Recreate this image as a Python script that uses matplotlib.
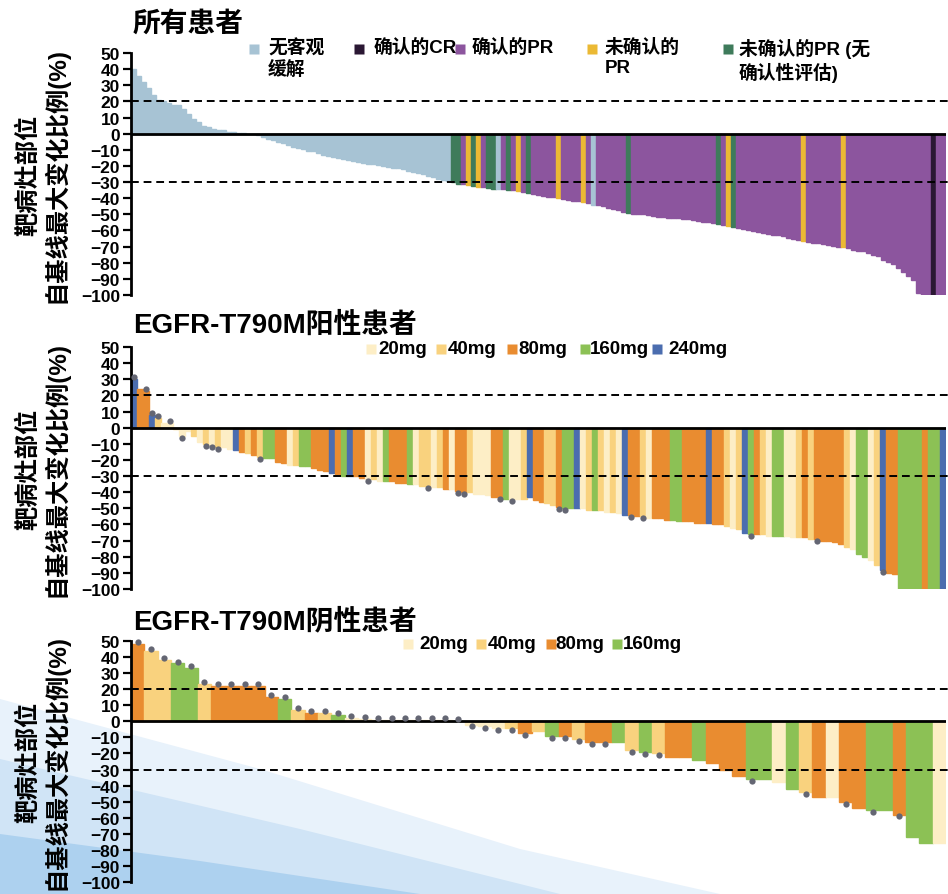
import matplotlib
matplotlib.use("Agg")
import matplotlib.pyplot as plt
from matplotlib.lines import Line2D
from matplotlib.patches import Polygon
import numpy as np

plt.rcParams['font.family'] = ['Liberation Sans', 'Noto Sans CJK SC']
plt.rcParams['font.weight'] = 'bold'

W, H = 948, 895

# ---------------- all patients ----------------
all_values = [
    40, 36, 32, 28, 24, 21, 20, 19, 18, 18, 15, 12, 9, 7, 5, 4, 3, 2, 2, 1,
    1, 0.5, 0.5, 0, 0, -1, -2, -3, -4, -5, -6, -7, -8, -9, -9.5, -10.5, -11, -12, -13, -14,
    -14.5, -15, -16, -16.5, -17, -17.5, -18, -18.5, -19, -19.5, -20, -20.5, -21, -21.5, -22, -23, -24, -24.5, -25, -26,
    -27, -28, -29, -29.5,
    -30, -31, -31.5, -32, -32.5, -33, -33, -33.5, -34, -34.5, -34.5, -35, -35, -35.5, -36, -36.5,
    -37.5, -38, -38.5, -39, -39.5, -40, -40.5, -41, -41.5, -42, -42.5, -43, -44, -44.5, -45, -46,
    -47, -47.5, -48.5, -49, -49.5, -50, -50, -50.5, -51, -51.5, -51.5, -52, -52, -52.5, -53, -53,
    -53.5, -54, -54.5, -55, -55.5, -56, -56.5, -57, -58, -58.5, -59, -60, -60.5, -61, -61.5, -62,
    -62.5, -63, -63.5, -64.5, -65, -66, -66.5, -67, -67.5, -68, -68.5, -69, -69.5, -70, -70.5, -71,
    -72, -72.5, -73, -74, -75, -76, -78, -79.5, -81, -83, -86, -88, -91, -99, -100, -100,
    -100, -100, -100,
]
# N: no objective response, C: confirmed CR, P: confirmed PR,
# U: unconfirmed PR, G: unconfirmed PR (no confirmatory scan)
all_status = (
    "NNNNNNNNNNNNNNNN" "NNNNNNNNNNNNNNNN" "NNNNNNNNNNNNNNNN" "NNNNNNNNNNNNNNNN"
    "GGPUGUPGGNPGPUPG"
    "PPPPPUPPPPUPNPPPPPPG"
    "PPPPPPPPPPPPPPPPP"
    "GPUG"
    "PPPPPPPPPPPPP"
    "U"
    "PPPPPPP"
    "U"
    "PPPPPPPPPPPPPPPPP"
    "C"
    "PP"
)
status_colors = {'N': '#a7c3d4', 'C': '#2a1733', 'P': '#8c559e',
                 'U': '#ebb934', 'G': '#3e7b5b'}
status_labels = [('N', '无客观\n缓解'), ('C', '确认的CR'), ('P', '确认的PR'),
                 ('U', '未确认的\nPR'), ('G', '未确认的PR (无\n确认性评估)')]

# ---------------- T790M positive ----------------
pos_values = [
    30, 24, 23, 8, 6, 3, 3, -1, -5, -2,
    -5, -9, -10, -11, -12, -12, -13, -14, -15, -16,
    -17, -18, -19, -19, -21, -22, -23, -23, -24, -24,
    -25, -26, -27, -28, -29, -30, -30, -30, -31, -32,
    -32, -33, -33, -33, -34, -34, -35, -35, -36, -36,
    -37, -37, -38, -38, -39, -40, -40, -41, -41, -42,
    -43, -43, -44, -44, -44, -44, -43, -45, -46, -47,
    -48, -49, -50, -50, -50, -50, -51, -51, -51, -52,
    -52, -53, -54, -54, -55, -55, -56, -56, -56, -57,
    -57, -58, -58, -58, -59, -59, -59, -60, -60, -61,
    -62, -63, -65, -66, -66, -66, -67, -67, -67, -67,
    -68, -68, -68, -69, -69, -70, -70, -71, -72, -74,
    -75, -78, -80, -82, -85, -88, -90, -91, -100, -100,
    -100, -100, -100, -100, -100, -100,
]
# dose codes: 2=20mg 4=40mg 8=80mg 6=160mg B=240mg
pos_dose = (
    "B88B422422" "4242422B84" "8466882466" "888B86B882" "4268886244"
    "2482884222" "886224B884" "4866B24642" "42B8842888" "668888B884"
    "24B6842662" "2484888884" "26624B8866" "66866B"
)
pos_marked = [0, 2, 3, 4, 6, 8, 12, 13, 14, 21, 39, 49, 54, 55, 61, 63,
              71, 72, 83, 85, 103, 114, 125]

# ---------------- T790M negative ----------------
neg_values = [
    48, 44, 38, 36, 33, 23, 22, 22, 22, 22,
    15, 14, 7, 5, 5, 4, 2, 1.5, 1, 1,
    1, 1, 1, 1, 0.5, -2, -3, -4, -4, -7,
    -6, -9, -9, -11, -13, -13, -13, -18, -19, -20,
    -22, -22, -24, -26, -30, -34, -36, -36, -38, -42,
    -44, -47, -47, -50, -54, -55, -55, -58, -72, -76,
    -76,
]
neg_dose = "8446648888" "8648462222" "2222222248" "4684886464" "8868886626" "4828866866" "2"
neg_marked = [0, 1, 2, 3, 4, 5, 6, 7, 8, 9, 10, 11, 12, 13, 14, 15, 16, 17, 18, 19,
              20, 21, 22, 23, 24, 25, 26, 27, 28, 29, 31, 32, 33, 34, 35, 37, 38, 39,
              46, 50, 53, 55, 57]

dose_colors = {'2': '#fdeec6', '4': '#f9d27e', '8': '#e98c30', '6': '#8cc155', 'B': '#4b6daf'}
dose_names = {'2': '20mg', '4': '40mg', '8': '80mg', '6': '160mg', 'B': '240mg'}

assert len(all_values) == len(all_status)
assert len(pos_values) == len(pos_dose)
assert len(neg_values) == len(neg_dose)


def fx(x):
    return x / W


def fy(y):
    return 1 - y / H


fig = plt.figure(figsize=(W / 100, H / 100), dpi=100)
fig.patch.set_facecolor('white')

# soft blue background waves in the lower left corner
waves = [
    ([(0, 700), (260, 770), (520, 850), (720, 895), (0, 895)], '#e8f2fb'),
    ([(0, 760), (300, 830), (560, 895), (0, 895)], '#d0e4f6'),
    ([(0, 835), (200, 862), (420, 895), (0, 895)], '#add1ef'),
]
for pts, c in waves:
    poly = Polygon([(fx(x), fy(y)) for x, y in pts], closed=True,
                   transform=fig.transFigure, facecolor=c, edgecolor='none', zorder=-5)
    fig.add_artist(poly)


def draw_panel(rect, values, colors, marked=None):
    ax = fig.add_axes(rect)
    ax.set_facecolor('none')
    vals = np.array(values, dtype=float)
    x = np.arange(len(vals))
    ax.bar(x, vals, width=1.0, color=colors, edgecolor=colors, linewidth=1.0, zorder=2)
    if marked:
        mv = vals[marked]
        ax.plot(np.array(marked), mv + np.where(mv >= 0, 1.2, -1.2), 'o', ms=4.5,
                color='#646673', mec='none', zorder=4, clip_on=False)
    ax.axhline(0, color='black', lw=2, zorder=3)
    for yv in (20, -30):
        ax.axhline(yv, color='black', lw=1.4, ls=(0, (4, 2.5)), zorder=5,
                   xmax=1.003, clip_on=False)
    ax.set_xlim(-0.5, len(vals) - 0.5)
    ax.set_ylim(-100, 50)
    ax.set_yticks(np.arange(-100, 51, 10))
    ax.set_xticks([])
    for s in ('top', 'right', 'bottom'):
        ax.spines[s].set_visible(False)
    ax.spines['left'].set_linewidth(2)
    ax.tick_params(axis='y', direction='out', length=6, width=1.6, labelsize=12.5, pad=2)
    for lab in ax.get_yticklabels():
        lab.set_fontweight('bold')
    return ax


left, right = 131, 946
panels = [
    (54, 296, all_values, [status_colors[s] for s in all_status], None, '所有患者', 25),
    (348, 590, pos_values, [dose_colors[d] for d in pos_dose], pos_marked, 'EGFR-T790M阳性患者', 326),
    (642, 883, neg_values, [dose_colors[d] for d in neg_dose], neg_marked, 'EGFR-T790M阴性患者', 622),
]
for top, bot, vals, cols, marked, title, ty in panels:
    rect = [fx(left), fy(bot), (right - left) / W, (bot - top) / H]
    draw_panel(rect, vals, cols, marked)
    fig.text(fx(133), fy(ty), title, fontsize=20, fontweight='bold', ha='left', va='center')
    fig.text(fx(43), fy((top + bot) / 2), '靶病灶部位\n自基线最大变化比例(%)',
             rotation=90, fontsize=17.5, fontweight='bold', ha='center', va='center',
             multialignment='center', linespacing=1.1)


def legend_item(mx, tx, y, color, label, top_align=False):
    fig.add_artist(Line2D([fx(mx)], [fy(y)], marker='s', ms=7, color=color,
                          mec='none', transform=fig.transFigure))
    if top_align:
        fig.text(fx(tx), fy(y - 11), label, fontsize=13.5, fontweight='bold',
                 ha='left', va='top', linespacing=1.25)
    else:
        fig.text(fx(tx), fy(y), label, fontsize=13.5, fontweight='bold',
                 ha='left', va='center')


# legend of panel 1
leg1_marker_x = [254, 359, 460, 592, 728]
leg1_text_x = [268, 374, 472, 605, 739]
for (code, label), mx, tx in zip(status_labels, leg1_marker_x, leg1_text_x):
    legend_item(mx, tx, 50, status_colors[code], label, top_align=True)

# legend of panel 2
for code, mx, tx in zip("2486B", [371, 441, 512, 585, 657], [378, 448, 518, 590, 668]):
    legend_item(mx, tx, 350, dose_colors[code], dose_names[code])

# legend of panel 3
for code, mx, tx in zip("2486", [408, 481, 551, 617], [419, 488, 555, 623]):
    legend_item(mx, tx, 645, dose_colors[code], dose_names[code])

fig.savefig('out.png', dpi=100)
